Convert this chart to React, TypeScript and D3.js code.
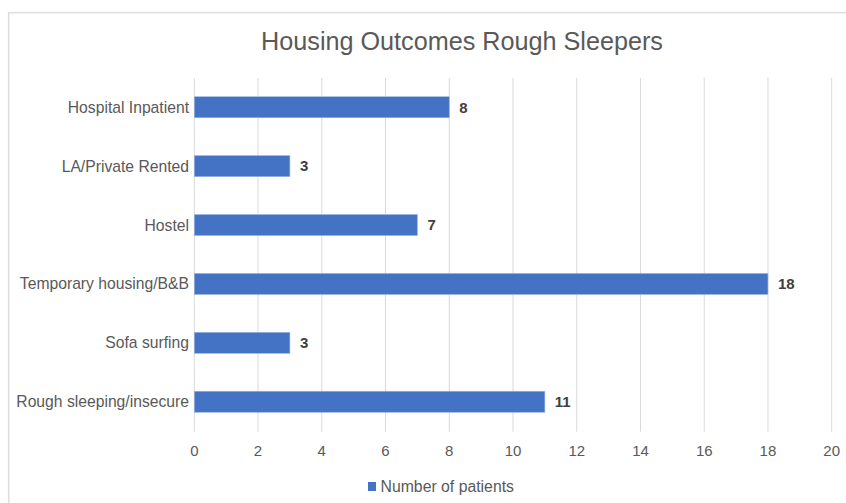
import React from "react";
import * as d3 from "d3";

const categories = [
  "Hospital Inpatient",
  "LA/Private Rented",
  "Hostel",
  "Temporary housing/B&B",
  "Sofa surfing",
  "Rough sleeping/insecure",
];
const values = [8, 3, 7, 18, 3, 11];
const xTicks = [0, 2, 4, 6, 8, 10, 12, 14, 16, 18, 20];
const title = "Housing Outcomes Rough Sleepers";
const seriesName = "Number of patients";

const W = 846;
const H = 503;
const FONT = "'Liberation Sans', Arial, Helvetica, sans-serif";

export default function App() {
  const x = d3.scaleLinear().domain([0, 20]).range([194.3, 831.7]);
  const y = d3
    .scaleBand<string>()
    .domain(categories)
    .range([77.8, 431.2])
    .paddingInner(0.643)
    .paddingOuter(0.3215);

  return (
    <svg
      width={W}
      height={H}
      style={{ position: "absolute", left: 0, top: 0, background: "#fff" }}
      fontFamily={FONT}
    >
      <rect x={0} y={0} width={W} height={H} fill="#fff" />
      <rect
        x={8.7}
        y={12.7}
        width={W + 20}
        height={H + 20}
        fill="none"
        stroke="#dedede"
        strokeWidth={1.6}
      />
      <text
        x={462}
        y={50}
        textAnchor="middle"
        fontSize={25.2}
        fill="#595959"
      >
        {title}
      </text>
      {xTicks.map((t) => (
        <g key={t}>
          <line
            x1={x(t)}
            x2={x(t)}
            y1={77.8}
            y2={431.7}
            stroke="#d9d9d9"
            strokeWidth={1}
          />
          <text
            x={x(t)}
            y={450.5}
            dy="0.35em"
            textAnchor="middle"
            fontSize={15}
            fill="#595959"
          >
            {t}
          </text>
        </g>
      ))}
      {categories.map((c, i) => {
        const by = y(c)!;
        const bh = y.bandwidth();
        return (
          <g key={c}>
            <rect
              x={x(0)}
              y={by}
              width={x(values[i]) - x(0)}
              height={bh}
              fill="#4472c4"
              stroke="#9bb5e3"
              strokeWidth={0.6}
            />
            <text
              x={x(values[i]) + 10}
              y={by + bh / 2}
              dy="0.35em"
              fontSize={15}
              fontWeight={600}
              fill="#404040"
            >
              {values[i]}
            </text>
            <text
              x={189}
              y={by + bh / 2}
              dy="0.35em"
              textAnchor="end"
              fontSize={15.7}
              fill="#595959"
            >
              {c}
            </text>
          </g>
        );
      })}
      <rect x={368} y={482} width={8} height={9} fill="#4472c4" />
      <text x={380.5} y={486.5} dy="0.35em" fontSize={15.8} fill="#595959">
        {seriesName}
      </text>
    </svg>
  );
}
